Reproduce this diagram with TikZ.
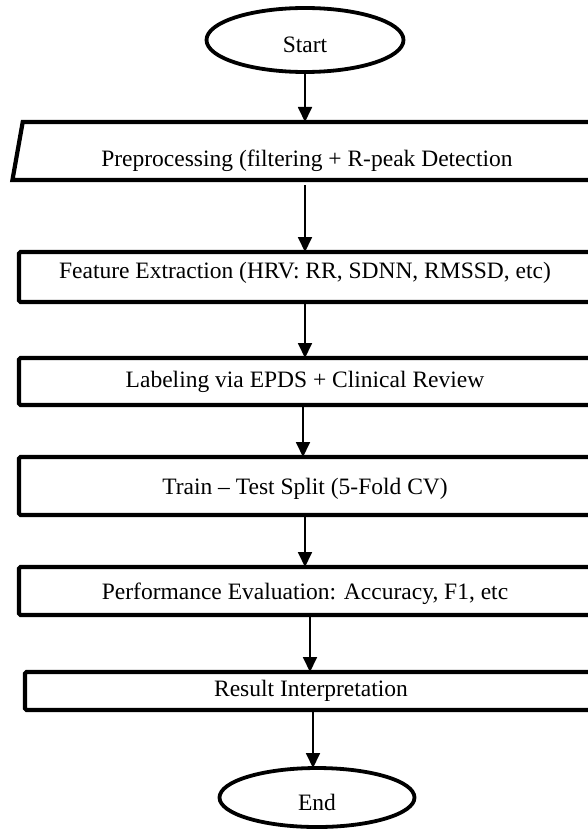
\documentclass[tikz,border=0pt]{standalone}
\usepackage{fontspec}
\setmainfont{Liberation Serif}
\usetikzlibrary{arrows.meta,positioning,shapes.geometric}
\newcommand{\lowtext}[2]{\raisebox{-#1}[\height][\depth]{#2}}

\begin{document}
\begin{tikzpicture}[
  font=\fontsize{23.5}{28}\selectfont,
  term/.style={draw,ellipse,line width=3.8pt,minimum width=197pt,
               minimum height=64pt,inner sep=0pt,outer sep=0pt},
  box/.style={draw,line width=4.2pt,rounded corners=1.5pt,
              minimum width=572pt,inner sep=0pt,outer sep=0pt},
  io/.style={draw,trapezium,trapezium left angle=71,trapezium right angle=109,
             trapezium stretches=true,line width=4.2pt,minimum width=592pt,
             minimum height=58pt,inner sep=0pt,outer sep=0pt},
  arr/.style={-{Triangle[width=14pt,length=15pt]},line width=1.8pt}
]
\clip (0,0) rectangle (588pt,-832pt);
\node[term](start) at (305pt,-40pt){\lowtext{5pt}{Start}};
\node[io,below=50pt of start,xshift=2pt](pre){\lowtext{10pt}{Preprocessing (filtering + R-peak Detection}};
\node[box,minimum height=50pt,below=72pt of pre,xshift=-2pt](feat){\lowtext{-4pt}{Feature Extraction (HRV: RR, SDNN, RMSSD, etc)}};
\node[box,minimum height=47pt,below=56pt of feat](lab){Labeling via EPDS + Clinical Review};
\node[box,minimum height=58pt,below=52pt of lab](split){\lowtext{3pt}{Train -- Test Split (5-Fold CV)}};
\node[box,minimum height=48pt,below=52pt of split](eval){\lowtext{3pt}{Performance Evaluation: Accuracy, F1, etc}};
\node[box,minimum height=38pt,below=57pt of eval,xshift=6pt](res){Result Interpretation};
\node[term,minimum width=195pt,minimum height=59pt,below=58pt of res,xshift=6pt](end){\lowtext{5pt}{End}};
\draw[arr](start)--(start.south |- pre.north);
\draw[arr]([yshift=-5pt]pre.south -| feat.north)--(feat.north);
\draw[arr](feat)--(lab);
\draw[arr]([xshift=-2pt]lab.south)--([xshift=-2pt]lab.south |- split.north);
\draw[arr](split)--(eval);
\draw[arr]([xshift=5pt]eval.south)--([xshift=5pt]eval.south |- res.north);
\draw[arr]([xshift=2pt]res.south)--([xshift=2pt]res.south |- end.north);
\end{tikzpicture}
\end{document}
